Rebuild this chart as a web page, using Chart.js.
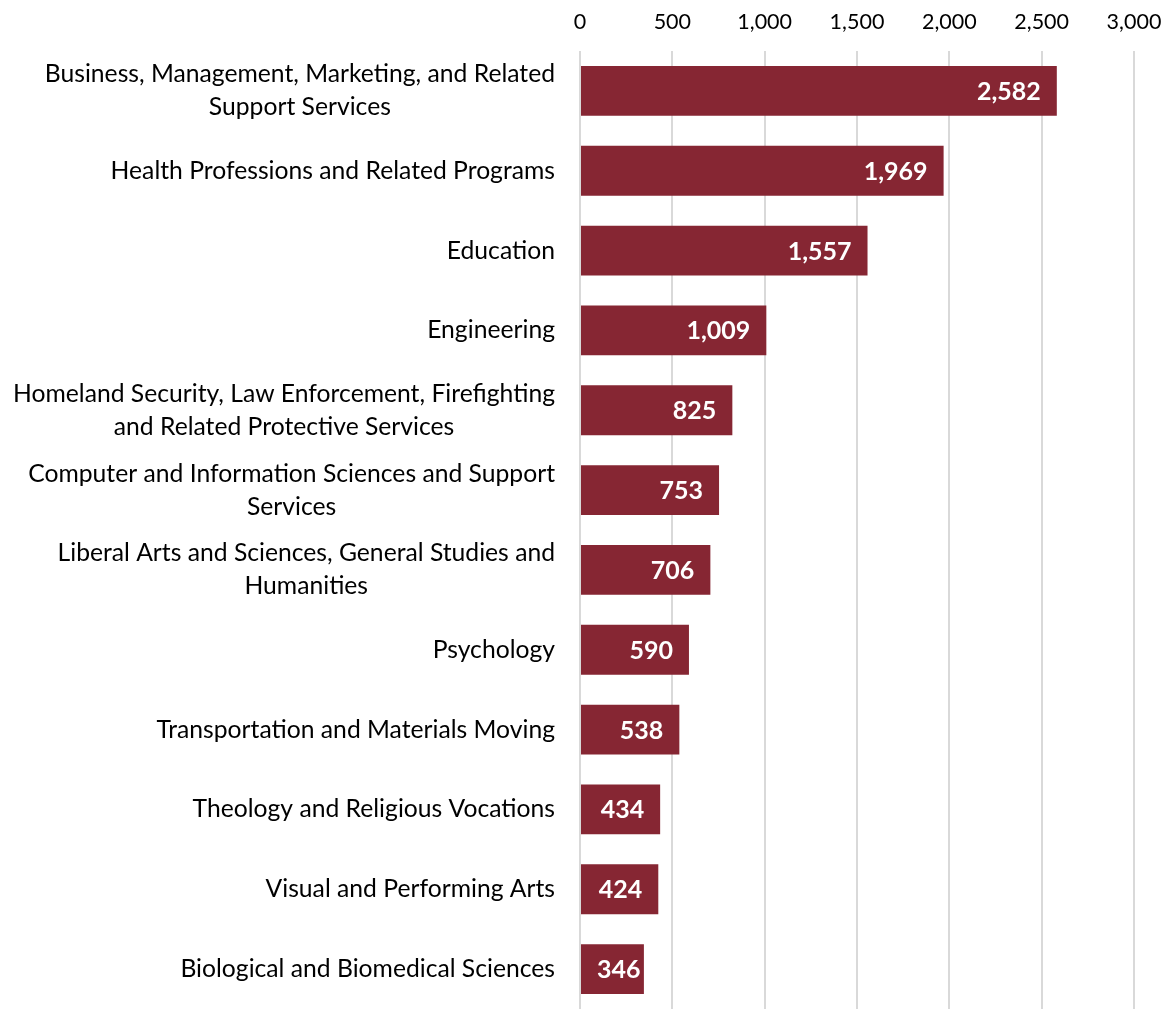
<!DOCTYPE html>
<html>
<head>
<meta charset="utf-8">
<script src="https://cdn.jsdelivr.net/npm/chart.js@4.4.0/dist/chart.umd.min.js"></script>
<style>
  html, body { margin: 0; padding: 0; background: #fff; }
  #wrap { width: 1168px; height: 1009px; }
</style>
</head>
<body>
<div id="wrap"><canvas id="chart"></canvas></div>
<script>
const categories = [
  ["Business, Management, Marketing, and Related", "Support Services"],
  ["Health Professions and Related Programs"],
  ["Education"],
  ["Engineering"],
  ["Homeland Security, Law Enforcement, Firefighting", "and Related Protective Services"],
  ["Computer and Information Sciences and Support", "Services"],
  ["Liberal Arts and Sciences, General Studies and", "Humanities"],
  ["Psychology"],
  ["Transportation and Materials Moving"],
  ["Theology and Religious Vocations"],
  ["Visual and Performing Arts"],
  ["Biological and Biomedical Sciences"]
];
const values = [2582, 1969, 1557, 1009, 825, 753, 706, 590, 538, 434, 424, 346];
const xTicks = [0, 500, 1000, 1500, 2000, 2500, 3000];

const barColor = "#862633";
const labelFont = "24.7px Lato";
const lineHeight = 33;

// category labels: block right-aligned, lines centred inside the block
const categoryLabels = {
  id: "categoryLabels",
  afterDraw(chart) {
    const ctx = chart.ctx;
    const y = chart.scales.y;
    const right = y.right - 25;
    ctx.save();
    ctx.font = labelFont;
    ctx.fillStyle = "#000";
    ctx.textBaseline = "middle";
    ctx.textAlign = "center";
    categories.forEach((lines, i) => {
      const cy = y.getPixelForValue(i);
      const w = Math.max(...lines.map(l => ctx.measureText(l).width));
      const cx = right - w / 2;
      const top = cy - (lines.length - 1) * lineHeight / 2;
      lines.forEach((l, j) => ctx.fillText(l, cx, top + j * lineHeight));
    });
    ctx.restore();
  }
};

// value labels at the inside end of each bar (kept clear of the bar's start)
const valueLabels = {
  id: "valueLabels",
  afterDatasetsDraw(chart) {
    const ctx = chart.ctx;
    const meta = chart.getDatasetMeta(0);
    ctx.save();
    ctx.font = "bold 25px Lato";
    ctx.fillStyle = "#fff";
    ctx.textAlign = "right";
    ctx.textBaseline = "middle";
    meta.data.forEach((bar, i) => {
      const txt = values[i].toLocaleString("en-US");
      const w = ctx.measureText(txt).width;
      const x = Math.max(bar.x - 16, bar.base + 16 + w);
      ctx.fillText(txt, x, bar.y + 1);
    });
    ctx.restore();
  }
};

new Chart(document.getElementById("chart"), {
  type: "bar",
  data: {
    labels: categories,
    datasets: [{
      data: values,
      backgroundColor: barColor,
      barPercentage: 0.81,
      categoryPercentage: 0.77
    }]
  },
  options: {
    indexAxis: "y",
    responsive: true,
    maintainAspectRatio: false,
    animation: false,
    layout: { padding: { top: 8, right: 0, bottom: -2, left: 0 } },
    plugins: { legend: { display: false }, tooltip: { enabled: false } },
    scales: {
      x: {
        position: "top",
        min: 0,
        max: 3000,
        afterBuildTicks(scale) { scale.ticks = xTicks.map(v => ({ value: v })); },
        afterFit(scale) {
          scale.height = 43;
          scale.paddingRight = 34;
          scale.paddingLeft = 0;
        },
        border: { display: false },
        grid: { color: "#d9d9d9", lineWidth: 2, drawTicks: false },
        ticks: {
          padding: 16,
          color: "#000",
          font: { family: "Lato", size: 21.5 },
          callback: v => v.toLocaleString("en-US")
        }
      },
      y: {
        border: { display: false },
        grid: { display: false },
        ticks: { display: false },
        afterFit(scale) { scale.width = 580; }
      }
    }
  },
  plugins: [categoryLabels, valueLabels]
});
</script>
</body>
</html>
